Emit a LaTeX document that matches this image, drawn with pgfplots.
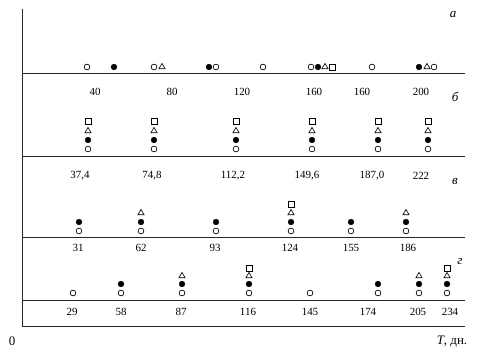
\documentclass[border=0pt]{standalone}
\usepackage{fontspec}
\setmainfont{Liberation Serif}
\usepackage{pgfplots}
\pgfplotsset{compat=1.18}
\tikzset{
  lbl/.style={font=\fontsize{11}{13}\selectfont, inner sep=0pt},
  ltr/.style={font=\fontsize{13}{15}\selectfont\itshape, inner sep=0pt},
  oc/.style={only marks, mark=o, mark size=2.9pt, black, mark options={line width=0.65pt}},
  fc/.style={only marks, mark=*, mark size=2.9pt, black},
  tr/.style={only marks, mark=triangle, mark size=3.6pt, black, mark options={line width=0.65pt}},
  sq/.style={only marks, mark=square, mark size=3.0pt, black, mark options={line width=0.65pt}},
  ln/.style={black!85, line width=0.7pt},
}
\begin{document}
\begin{tikzpicture}
\begin{axis}[
  hide axis, scale only axis, width=486bp, height=355bp,
  xmin=0, xmax=486, ymin=0, ymax=355, y dir=reverse, clip=false,
]
\draw[draw=none] (rel axis cs:0,0) rectangle (rel axis cs:1,1);
% frame and baselines
\addplot[ln] coordinates {(22,9) (22,326) (465,326)};
\addplot[ln] coordinates {(22,73) (465,73)};
\addplot[ln] coordinates {(22,156) (465,156)};
\addplot[ln] coordinates {(22,237) (465,237)};
\addplot[ln] coordinates {(22,300) (465,300)};
% open circles
\addplot[oc] coordinates {(87,67) (154,67) (216,67) (263,67) (311,67) (372,67) (434,67)
  (88,149) (154,149) (236,149) (312,149) (378,149) (428,149)
  (79,231) (141,231) (216,231) (291,231) (351,231) (406,231)
  (73,293) (121,293) (182,293) (249,293) (310,293) (378,293) (419,293) (447,293)};
% filled circles
\addplot[fc] coordinates {(114,67) (209,67) (318,67) (419,67)
  (88,140) (154,140) (236,140) (312,140) (378,140) (428,140)
  (79,222) (141,222) (216,222) (291,222) (351,222) (406,222)
  (121,284) (182,284) (249,284) (378,284) (419,284) (447,284)};
% triangles
\addplot[tr] coordinates {(162,67) (325,67) (427,67)
  (88,131) (154,131) (236,131) (312,131) (378,131) (428,131)
  (141,213) (291,213) (406,213)
  (182,276) (249,276) (419,276) (447,276)};
% squares
\addplot[sq] coordinates {(332,67)
  (88,121) (154,121) (236,121) (312,121) (378,121) (428,121)
  (291,204)
  (249,268) (447,268)};
% labels row a
\node[lbl] at (axis cs:95,92) {40};
\node[lbl] at (axis cs:172,92) {80};
\node[lbl] at (axis cs:242,92) {120};
\node[lbl] at (axis cs:314,92) {160};
\node[lbl] at (axis cs:362,92) {160};
\node[lbl] at (axis cs:421,92) {200};
% row b
\node[lbl] at (axis cs:80,176) {37,4};
\node[lbl] at (axis cs:152,176) {74,8};
\node[lbl] at (axis cs:233,176) {112,2};
\node[lbl] at (axis cs:307,176) {149,6};
\node[lbl] at (axis cs:372,176) {187,0};
\node[lbl] at (axis cs:421,176) {222};
% row v
\node[lbl] at (axis cs:78,248) {31};
\node[lbl] at (axis cs:141,248) {62};
\node[lbl] at (axis cs:215,248) {93};
\node[lbl] at (axis cs:290,248) {124};
\node[lbl] at (axis cs:351,248) {155};
\node[lbl] at (axis cs:408,248) {186};
% row g
\node[lbl] at (axis cs:72,312) {29};
\node[lbl] at (axis cs:121,312) {58};
\node[lbl] at (axis cs:181,312) {87};
\node[lbl] at (axis cs:248,312) {116};
\node[lbl] at (axis cs:310,312) {145};
\node[lbl] at (axis cs:368,312) {174};
\node[lbl] at (axis cs:418,312) {205};
\node[lbl] at (axis cs:450,312) {234};
% panel letters
\node[ltr] at (axis cs:453,15) {а};
\node[ltr] at (axis cs:455,97) {б};
\node[ltr] at (axis cs:455,182) {в};
\node[ltr] at (axis cs:460,262) {г};
% axis annotations
\node[font=\fontsize{13}{15}\selectfont, inner sep=0pt] at (axis cs:12,341) {0};
\node[font=\fontsize{13}{15}\selectfont, inner sep=0pt] at (axis cs:452,342) {\textit{T}, дн.};
\end{axis}
\end{tikzpicture}
\end{document}
